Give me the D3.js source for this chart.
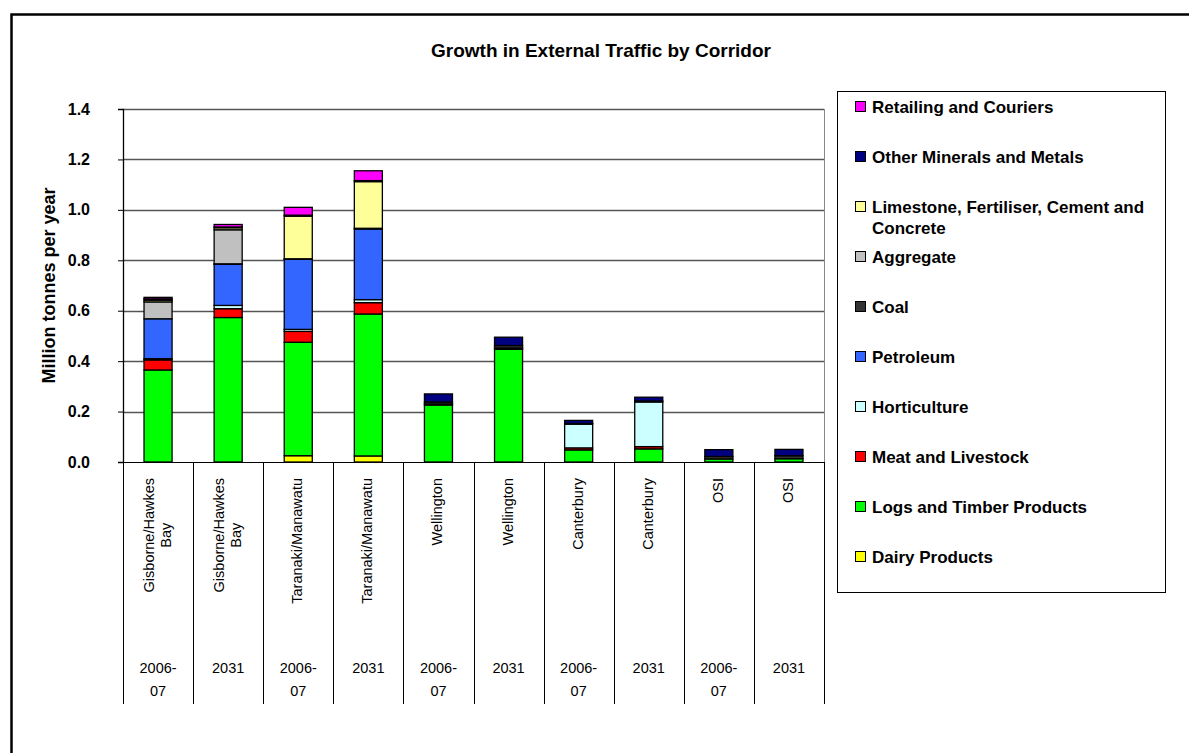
<!DOCTYPE html>
<html>
<head>
<meta charset="utf-8">
<script src="https://cdn.jsdelivr.net/npm/d3@7.9.0/dist/d3.min.js"></script>
<style>
  body { margin: 0; background: #fff; }
  svg { display: block; font-family: Arial, "Liberation Sans", sans-serif; }
</style>
</head>
<body>
<div id="chart"></div>
<script>
// ---------------------- Data ----------------------
const corridors = ['Gisborne/Hawkes Bay', 'Gisborne/Hawkes Bay', 'Taranaki/Manawatu', 'Taranaki/Manawatu',
  'Wellington', 'Wellington', 'Canterbury', 'Canterbury', 'OSI', 'OSI'];
const years = ['2006-07', '2031', '2006-07', '2031', '2006-07', '2031', '2006-07', '2031', '2006-07', '2031'];

// stacked bottom to top
const seriesNames = ['Dairy Products', 'Logs and Timber Products', 'Meat and Livestock', 'Horticulture',
  'Petroleum', 'Coal', 'Aggregate', 'Limestone, Fertiliser, Cement and Concrete',
  'Other Minerals and Metals', 'Retailing and Couriers'];
const seriesColors = ['#ffff00', '#00ff00', '#ff0000', '#ccffff', '#3366ff', '#333333', '#c0c0c0', '#ffff99', '#000080', '#ff00ff'];

const dairy       = [0,     0,     0.025, 0.024, 0,     0,     0,     0,     0,     0];
const logs        = [0.365, 0.573, 0.450, 0.563, 0.226, 0.447, 0.048, 0.052, 0.012, 0.013];
const meat        = [0.040, 0.035, 0.043, 0.045, 0.004, 0.005, 0.008, 0.009, 0,     0];
const horticulture= [0.005, 0.013, 0.008, 0.012, 0,     0,     0.094, 0.177, 0,     0];
const petroleum   = [0.158, 0.163, 0.278, 0.280, 0,     0,     0,     0,     0,     0];
const coal        = [0,     0.002, 0.002, 0.003, 0.008, 0.010, 0.003, 0.004, 0.010, 0.012];
const aggregate   = [0.067, 0.135, 0,     0,     0,     0,     0,     0,     0,     0];
const limestone   = [0.007, 0.008, 0.169, 0.185, 0,     0,     0,     0,     0,     0];
const otherMinerals=[0.005, 0.003, 0.004, 0.004, 0.032, 0.033, 0.012, 0.015, 0.027, 0.025];
const retailing   = [0.006, 0.010, 0.031, 0.039, 0,     0,     0,     0,     0,     0];

const seriesValues = [dairy, logs, meat, horticulture, petroleum, coal, aggregate, limestone, otherMinerals, retailing];
const yTicks = [0, 0.2, 0.4, 0.6, 0.8, 1.0, 1.2, 1.4];

// ---------------------- Layout ----------------------
const width = 1189, height = 753;
const plot = { left: 123, right: 824, top: 109, bottom: 462 };

const svg = d3.select('#chart').append('svg')
  .attr('width', width).attr('height', height);

svg.append('rect').attr('width', width).attr('height', height).attr('fill', '#fff');

// outer frame (runs off the picture on the right and bottom)
svg.append('rect')
  .attr('x', 11.5).attr('y', 14.5).attr('width', 1300).attr('height', 800)
  .attr('fill', 'none').attr('stroke', '#000').attr('stroke-width', 2.5);

svg.append('text')
  .attr('x', 601).attr('y', 57)
  .attr('text-anchor', 'middle')
  .attr('font-size', 19).attr('font-weight', 'bold')
  .text('Growth in External Traffic by Corridor');

const idx = d3.range(corridors.length);
const xScale = d3.scaleBand().domain(idx).range([plot.left, plot.right]).paddingInner(0.6).paddingOuter(0.3);
const yScale = d3.scaleLinear().domain([0, 1.4]).range([plot.bottom, plot.top]);

// gridlines
svg.append('g')
  .selectAll('line')
  .data(yTicks.filter(d => d > 0))
  .join('line')
  .attr('x1', plot.left).attr('x2', plot.right)
  .attr('y1', d => Math.round(yScale(d)) + 0.5).attr('y2', d => Math.round(yScale(d)) + 0.5)
  .attr('stroke', '#555').attr('stroke-width', 1.3);

svg.append('line')
  .attr('x1', plot.right + 0.5).attr('x2', plot.right + 0.5)
  .attr('y1', plot.top).attr('y2', plot.bottom)
  .attr('stroke', '#888');

// y axis
const yAxis = svg.append('g')
  .attr('transform', `translate(${plot.left},0)`)
  .call(d3.axisLeft(yScale).tickValues(yTicks).tickFormat(d3.format('.1f')).tickSize(5).tickPadding(28));
yAxis.select('.domain').attr('stroke', '#000').attr('stroke-width', 1.3);
yAxis.selectAll('.tick line').attr('stroke', '#000');
yAxis.selectAll('.tick text')
  .attr('font-size', 16).attr('font-weight', 'bold').attr('fill', '#000')
  .attr('font-family', 'Arial, "Liberation Sans", sans-serif');

svg.append('text')
  .attr('transform', `translate(55,${(plot.top + plot.bottom) / 2}) rotate(-90)`)
  .attr('text-anchor', 'middle')
  .attr('font-size', 18).attr('font-weight', 'bold')
  .text('Million tonnes per year');

// ---------------------- Bars ----------------------
const rows = idx.map(i => {
  const r = { i };
  seriesNames.forEach((s, k) => { r[s] = seriesValues[k][i]; });
  return r;
});
const stacked = d3.stack().keys(seriesNames)(rows);

svg.append('g')
  .selectAll('g')
  .data(stacked)
  .join('g')
  .attr('fill', (d, k) => seriesColors[k])
  .selectAll('rect')
  .data(d => d.filter(p => p[1] - p[0] > 0))
  .join('rect')
  .attr('x', p => xScale(p.data.i))
  .attr('width', xScale.bandwidth())
  .attr('y', p => yScale(p[1]))
  .attr('height', p => yScale(p[0]) - yScale(p[1]))
  .attr('stroke', '#000').attr('stroke-width', 1.3);

// ---------------------- Category axis ----------------------
const step = (plot.right - plot.left) / corridors.length;
const xAxis = svg.append('g');
xAxis.append('line')
  .attr('x1', plot.left).attr('x2', plot.right)
  .attr('y1', plot.bottom + 0.5).attr('y2', plot.bottom + 0.5)
  .attr('stroke', '#000');
xAxis.selectAll('line.div')
  .data(d3.range(corridors.length + 1))
  .join('line')
  .attr('class', 'div')
  .attr('x1', k => Math.round(plot.left + k * step) + 0.5)
  .attr('x2', k => Math.round(plot.left + k * step) + 0.5)
  .attr('y1', plot.bottom).attr('y2', 704)
  .attr('stroke', '#000');

const labelTop = 478;
idx.forEach(i => {
  const cx = xScale(i) + xScale.bandwidth() / 2;
  const name = corridors[i];
  const lines = name === 'Gisborne/Hawkes Bay' ? ['Gisborne/Hawkes', 'Bay'] : [name];
  const g = xAxis.append('g')
    .attr('transform', `translate(${cx},${labelTop}) rotate(-90)`);
  const t = g.append('text').attr('font-size', 14.5).attr('fill', '#000');
  const lh = 17;
  lines.forEach((ln, j) => {
    t.append('tspan').attr('x', 0).attr('y', (j - (lines.length - 1) / 2) * lh + 4).text(ln);
  });
  // longest line ends at the top, shorter lines centred on it
  let maxLen = 0;
  t.selectAll('tspan').each(function () { maxLen = Math.max(maxLen, this.getComputedTextLength()); });
  t.attr('text-anchor', 'middle').selectAll('tspan').attr('x', -maxLen / 2);

  const yl = years[i].includes('-') ? [years[i].split('-')[0] + '-', years[i].split('-')[1]] : [years[i]];
  const yt = xAxis.append('text').attr('font-size', 14.5).attr('text-anchor', 'middle').attr('fill', '#000');
  yl.forEach((ln, j) => {
    yt.append('tspan').attr('x', cx).attr('y', 673 + j * 23).text(ln);
  });
});

// ---------------------- Legend ----------------------
const legend = svg.append('g');
legend.append('rect')
  .attr('x', 837.5).attr('y', 91.5).attr('width', 328).attr('height', 501)
  .attr('fill', '#fff').attr('stroke', '#000');

const legendOrder = seriesNames.map((s, k) => k).reverse();
legendOrder.forEach((k, j) => {
  const cy = 107 + j * 50;
  legend.append('rect')
    .attr('x', 855.5).attr('y', cy - 5.5).attr('width', 10).attr('height', 10)
    .attr('fill', seriesColors[k]).attr('stroke', '#000');
  const t = legend.append('text').attr('font-size', 17).attr('font-weight', 'bold');
  const name = seriesNames[k];
  const lines = name.startsWith('Limestone') ? ['Limestone, Fertiliser, Cement and', 'Concrete'] : [name];
  lines.forEach((ln, m) => {
    t.append('tspan').attr('x', 872).attr('y', cy + 6 + m * 21).text(ln);
  });
});
</script>
</body>
</html>
